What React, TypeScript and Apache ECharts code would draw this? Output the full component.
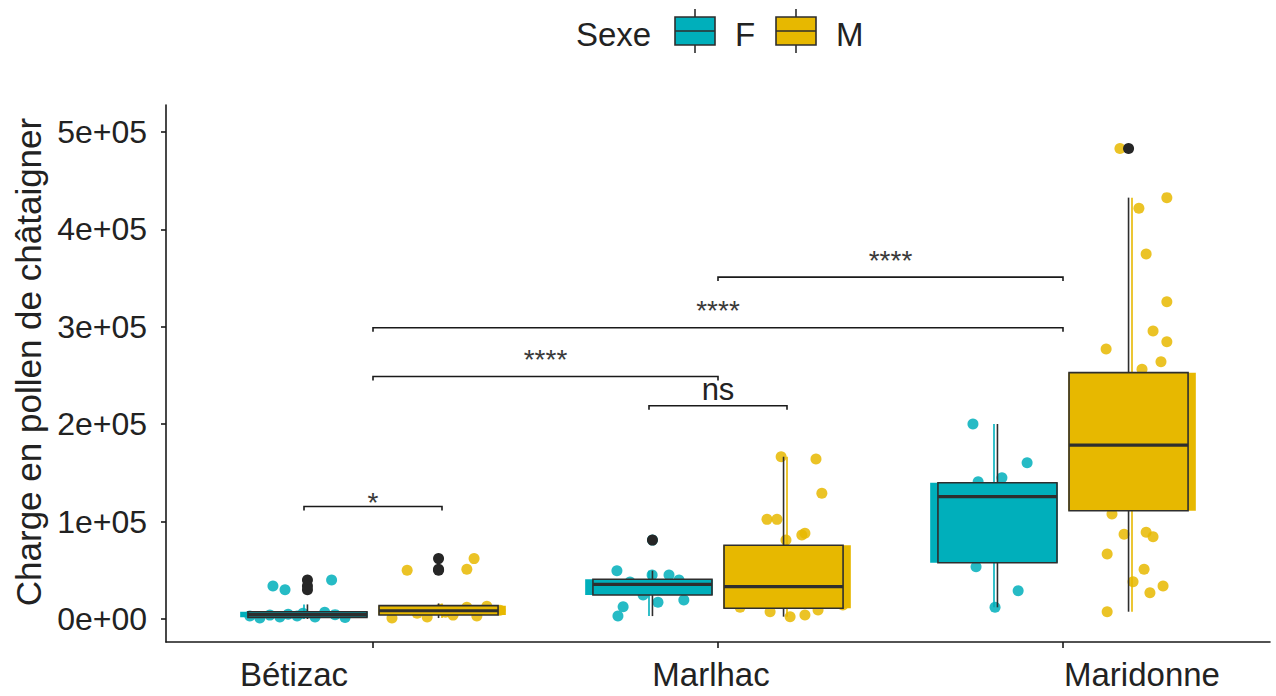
import { useEffect, useRef } from "react";
import * as echarts from "echarts";

const sites = ["Bétizac", "Marlhac", "Maridonne"];
const sexes = ["F", "M"];
const sexColors = ["#00AFBB", "#E7B800"];

// Box statistics per site: [lower whisker, Q1, median, Q3, upper whisker]
const femaleBoxes = [
  [0, 1700, 4500, 7500, 15000],
  [3000, 24600, 35600, 40800, 49600],
  [12000, 57800, 125600, 139900, 200200],
];
const maleBoxes = [
  [1000, 4100, 8500, 13700, 16000],
  [2400, 11000, 33200, 75700, 166600],
  [7500, 111200, 178600, 252900, 432600],
];

// Outliers per site
const femaleOutliers = [[40000, 34000, 30000], [81000], []];
const maleOutliers = [[62000, 51000, 50000], [], [483000]];

// Jittered observations: [position along the site axis, pollen load]
const femalePoints = [
  [0.88, 40000], [0.71, 34000], [0.745, 30000], [0.701, 4000], [0.73, 2000],
  [0.754, 5000], [0.78, 3000], [0.797, 6000], [0.832, 2000], [0.89, 4500],
  [0.672, 1000], [0.919, 1500], [0.643, 3000], [0.86, 7000],
  [1.707, 49600], [1.809, 45200], [1.858, 45200], [1.887, 40000], [1.901, 19500],
  [1.826, 17100], [1.783, 24600], [1.725, 12600], [1.71, 3000], [1.745, 38000],
  [1.919, 33000], [1.81, 81000],
  [2.739, 200200], [2.896, 160500], [2.823, 145100], [2.754, 141000], [2.748, 53700],
  [2.87, 29000], [2.803, 12000], [2.846, 120000], [2.701, 85000],
];
const malePoints = [
  [1.099, 50000], [1.293, 62000], [1.272, 51000], [1.128, 6000], [1.157, 2000],
  [1.194, 10000], [1.232, 4000], [1.272, 12000], [1.301, 3000], [1.368, 9000],
  [1.055, 1000], [1.33, 13000], [1.21, 7000],
  [2.183, 166600], [2.284, 164300], [2.301, 129000], [2.142, 102300], [2.171, 102300],
  [2.243, 86200], [2.252, 88000], [2.197, 81000], [2.151, 7500], [2.209, 2400],
  [2.252, 4100], [2.29, 9200], [2.362, 14400], [2.064, 12000], [2.122, 20000],
  [2.325, 55000],
  [3.301, 432600], [3.22, 421700], [3.241, 374700], [3.301, 325800], [3.261, 295700],
  [3.301, 284700], [3.125, 277200], [3.284, 264200], [3.229, 256400], [3.142, 107800],
  [3.177, 87000], [3.241, 89000], [3.261, 84500], [3.128, 66700], [3.235, 51000],
  [3.203, 38300], [3.29, 33900], [3.252, 27000], [3.128, 7500], [3.165, 483000],
  [3.15, 160000], [3.27, 210000], [3.2, 190000],
];

// Pairwise comparisons: [from, to, bracket height, significance]
const comparisons: [number, number, number, string][] = [
  [0.8, 1.2, 115500, "*"],
  [1.8, 2.2, 219000, "ns"],
  [1, 2, 249000, "****"],
  [1, 3, 299000, "****"],
  [2, 3, 351000, "****"],
];

const yTicks = [0, 100000, 200000, 300000, 400000, 500000];
const yLabels = ["0e+00", "1e+05", "2e+05", "3e+05", "4e+05", "5e+05"];
const xTicks = [1, 2, 3];
const yTitle = "Charge en pollen de châtaigner";
const legendTitle = "Sexe";

const FONT = "'Liberation Sans', Arial, sans-serif";
const INK = "#222222";
const BOX_LINE = "#2e2e2e";

// dodge offsets of the two box layers for F / M
const fillOffset = [-0.2, 0.2];
const fillWidth = 0.37;
const edgeOffset = [-0.19, 0.19];
const edgeWidth = 0.345;

export default function App() {
  const ref = useRef<HTMLDivElement>(null);

  useEffect(() => {
    if (!ref.current) return;
    const chart = echarts.init(ref.current, null, { renderer: "svg" });

    const boxData: number[][] = [];
    femaleBoxes.forEach((b, i) => boxData.push([i, 0, ...b]));
    maleBoxes.forEach((b, i) => boxData.push([i, 1, ...b]));

    const outlierData: number[][] = [];
    femaleOutliers.forEach((vals, i) =>
      vals.forEach((v) => outlierData.push([i + 1 + edgeOffset[0], v]))
    );
    maleOutliers.forEach((vals, i) =>
      vals.forEach((v) => outlierData.push([i + 1 + edgeOffset[1], v]))
    );

    const renderBox = (params: any, api: any) => {
      const site = api.value(0);
      const sex = api.value(1);
      const low = api.value(2);
      const q1 = api.value(3);
      const med = api.value(4);
      const q3 = api.value(5);
      const high = api.value(6);
      const color = sexColors[sex];
      const children: any[] = [];
      const layer = (off: number, w: number, framed: boolean) => {
        const cx = site + 1 + off;
        const [x, yLow] = api.coord([cx, low]);
        const yQ1 = api.coord([cx, q1])[1];
        const yMed = api.coord([cx, med])[1];
        const yQ3 = api.coord([cx, q3])[1];
        const yHigh = api.coord([cx, high])[1];
        const hw = api.size([w, 0])[0] / 2;
        const stroke = framed ? BOX_LINE : color;
        children.push(
          { type: "line", shape: { x1: x, y1: yHigh, x2: x, y2: yQ3 }, style: { stroke, lineWidth: 1.6 } },
          { type: "line", shape: { x1: x, y1: yQ1, x2: x, y2: yLow }, style: { stroke, lineWidth: 1.6 } },
          {
            type: "rect",
            shape: { x: x - hw, y: yQ3, width: hw * 2, height: Math.max(yQ1 - yQ3, 1) },
            style: framed
              ? { fill: color, stroke: BOX_LINE, lineWidth: 1.6 }
              : { fill: color },
          }
        );
        if (framed) {
          children.push({
            type: "line",
            shape: { x1: x - hw, y1: yMed, x2: x + hw, y2: yMed },
            style: { stroke: BOX_LINE, lineWidth: 3.2 },
          });
        }
      };
      layer(fillOffset[sex], fillWidth, false);
      layer(edgeOffset[sex], edgeWidth, true);
      return { type: "group", children };
    };

    const renderBracket = (params: any, api: any) => {
      const c = comparisons[params.dataIndex];
      const [x1, y] = api.coord([api.value(0), api.value(2)]);
      const x2 = api.coord([api.value(1), api.value(2)])[0];
      const tip = 4;
      const label = c[3];
      const isStars = label.indexOf("*") === 0;
      const lift = label === "ns" ? 16 : label === "*" ? 4 : 17;
      return {
        type: "group",
        children: [
          {
            type: "polyline",
            shape: { points: [[x1, y + tip], [x1, y], [x2, y], [x2, y + tip]] },
            style: { stroke: "#1a1a1a", lineWidth: 1.6, fill: "none" },
          },
          {
            type: "text",
            x: (x1 + x2) / 2,
            y: y - lift,
            style: {
              text: label,
              align: "center",
              verticalAlign: "middle",
              fontFamily: FONT,
              fontSize: isStars ? 28 : 31,
              fill: isStars ? "#3a3a3a" : INK,
            },
          },
        ],
      };
    };

    const graphics: any[] = [
      {
        type: "text",
        x: 28,
        y: 362,
        rotation: Math.PI / 2,
        style: {
          text: yTitle,
          align: "center",
          verticalAlign: "middle",
          fontFamily: FONT,
          fontSize: 35,
          fill: INK,
        },
      },
      {
        type: "text",
        x: 576,
        y: 34,
        style: { text: legendTitle, verticalAlign: "middle", fontFamily: FONT, fontSize: 33, fill: INK },
      },
    ];
    sexes.forEach((s, i) => {
      const kx = 675 + i * 101;
      graphics.push(
        { type: "line", shape: { x1: kx + 20, y1: 9, x2: kx + 20, y2: 53 }, style: { stroke: BOX_LINE, lineWidth: 1.6 } },
        { type: "rect", shape: { x: kx, y: 17, width: 40, height: 28 }, style: { fill: sexColors[i], stroke: BOX_LINE, lineWidth: 1.6 } },
        { type: "line", shape: { x1: kx, y1: 31, x2: kx + 40, y2: 31 }, style: { stroke: BOX_LINE, lineWidth: 1.6 } },
        {
          type: "text",
          x: kx + 60,
          y: 34,
          style: { text: s, verticalAlign: "middle", fontFamily: FONT, fontSize: 33, fill: INK },
        }
      );
    });

    const tickText = { fontFamily: FONT, fontSize: 33, color: INK };

    chart.setOption({
      animation: false,
      backgroundColor: "#ffffff",
      grid: { left: 166, right: 6, top: 105, bottom: 54, containLabel: false },
      xAxis: {
        type: "value",
        min: 0.4,
        max: 3.6,
        splitLine: { show: false },
        axisLine: { show: true, onZero: false, lineStyle: { color: "#1a1a1a", width: 1.6 } },
        axisTick: { show: true, customValues: xTicks, length: 6, lineStyle: { color: "#1a1a1a", width: 1.6 } },
        axisLabel: {
          customValues: xTicks,
          formatter: (v: number) => {
            const i = Math.round(v) - 1;
            return sites[i] ? `{s${i}|${sites[i]}}` : "";
          },
          margin: 16,
          ...tickText,
          rich: {
            s0: { ...tickText, padding: [0, 158, 0, 0] },
            s1: { ...tickText, padding: [0, 14, 0, 0] },
            s2: { ...tickText, padding: [0, 0, 0, 158] },
          },
        },
      },
      yAxis: {
        type: "value",
        min: -23600,
        max: 527700,
        splitLine: { show: false },
        axisLine: { show: true, onZero: false, lineStyle: { color: "#1a1a1a", width: 1.6 } },
        axisTick: { show: true, customValues: yTicks, length: 5, lineStyle: { color: "#1a1a1a", width: 1.6 } },
        axisLabel: {
          customValues: yTicks,
          formatter: (v: number) => yLabels[yTicks.indexOf(v)] ?? "",
          fontFamily: FONT,
          fontSize: 32,
          color: INK,
          margin: 19,
        },
      },
      graphic: graphics,
      series: [
        {
          type: "scatter",
          data: femalePoints,
          symbolSize: 11,
          itemStyle: { color: sexColors[0], opacity: 0.85 },
          z: 2,
        },
        {
          type: "scatter",
          data: malePoints,
          symbolSize: 11,
          itemStyle: { color: sexColors[1], opacity: 0.85 },
          z: 2,
        },
        {
          type: "custom",
          data: boxData,
          encode: { x: 0, y: [2, 3, 4, 5, 6] },
          renderItem: renderBox,
          z: 3,
        },
        {
          type: "scatter",
          data: outlierData,
          symbolSize: 11,
          itemStyle: { color: "#262626", opacity: 1 },
          z: 4,
        },
        {
          type: "custom",
          data: comparisons.map((c) => [c[0], c[1], c[2]]),
          encode: { x: [0, 1], y: 2 },
          renderItem: renderBracket,
          z: 5,
        },
      ],
    });

    return () => chart.dispose();
  }, []);

  return (
    <div
      ref={ref}
      style={{ position: "fixed", left: 0, top: 0, width: 1276, height: 696, background: "#fff" }}
    />
  );
}
